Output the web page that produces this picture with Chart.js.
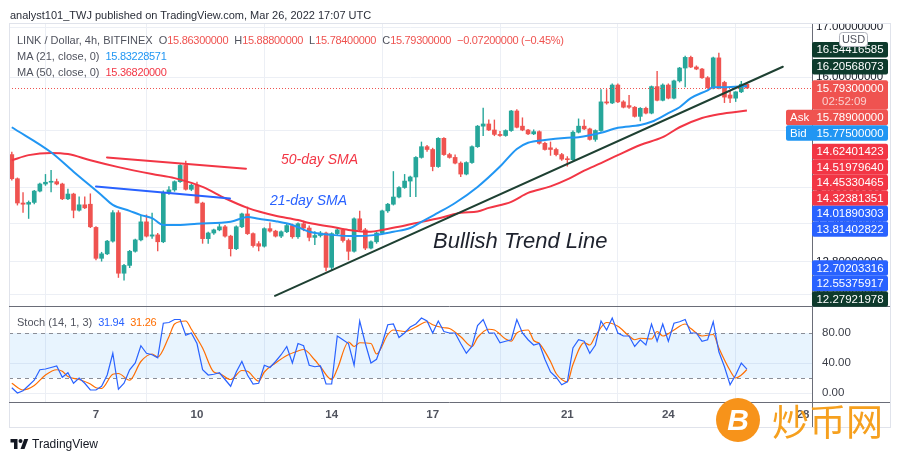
<!DOCTYPE html>
<html>
<head>
<meta charset="utf-8">
<title>LINK / Dollar, 4h, BITFINEX</title>
<script src="https://cdn.jsdelivr.net/npm/chart.js@4.4.1/dist/chart.umd.min.js"></script>
<style>
  html, body { margin:0; padding:0; background:#fff; }
  #wrap { position:relative; width:900px; height:460px; overflow:hidden; font-family:"Liberation Sans", Arial, sans-serif; }
  #c { position:absolute; left:0; top:0; }
  .t { position:absolute; white-space:nowrap; line-height:14px; font-size:11px; color:#50535E; }
  .n { letter-spacing:-0.3px; }
  .gap { margin-left:6px; }
  #tv { position:absolute; left:10px; top:437px; height:14px; }
  #tvtxt { position:absolute; left:32px; top:437px; font-size:12px; line-height:14px; color:#131722; white-space:nowrap; }
  #wmc { position:absolute; left:716px; top:398px; width:44px; height:44px; border-radius:50%; background:#F7931A; color:#fff; font:italic bold 30px "Liberation Sans", Arial, sans-serif; line-height:44px; text-align:center; }
  #wmt { position:absolute; left:772px; top:400px; font-size:37px; line-height:40px; color:#F6A01E; font-family:"Noto Sans CJK SC", sans-serif; white-space:nowrap; }
</style>
</head>
<body>
<div id="wrap">
  <canvas id="c" width="900" height="460"></canvas>
  <div class="t" id="hdr" style="left:10px;top:8px;color:#2A2E39;"></div>
  <div class="t" id="lg1" style="left:17px;top:33px;"></div>
  <div class="t" id="lg2" style="left:17px;top:49px;"></div>
  <div class="t" id="lg3" style="left:17px;top:65px;"></div>
  <div class="t" id="lgS" style="left:17px;top:315px;"></div>
  <svg id="tv" width="19" height="14" viewBox="0 0 36 28"><path d="M14 24H7V11H0V4h14v20z" fill="#131722"/><circle cx="20" cy="8" r="4" fill="#131722"/><path d="M28 24h-8l7.5-20h8L28 24z" fill="#131722"/></svg>
  <div id="tvtxt">TradingView</div>
  <div id="wmc">B</div>
  <div id="wmt">炒币网</div>
</div>
<script>
// ---------------- data ----------------
const headerText = 'analyst101_TWJ published on TradingView.com, Mar 26, 2022 17:07 UTC';
const symbolText = 'LINK / Dollar, 4h, BITFINEX';
const changeText = '\u22120.07200000 (\u22120.45%)';
const ma21Legend = 'MA (21, close, 0)';
const ma50Legend = 'MA (50, close, 0)';
const stochLegend = 'Stoch (14, 1, 3)';
const ma21Last = 15.83228571;
const ma50Last = 15.3682;
const stochKLast = 31.94;
const stochDLast = 31.26;
const askPrice = 15.789;
const bidPrice = 15.775;
const countdownText = '02:52:09';

const dayLabels = ['7', '10', '14', '17', '21', '24', '28'];
const dayTickIdx = [15, 33, 57, 75, 99, 117, 141];
const priceTicks = [12.3, 12.8, 13.4, 14, 15, 16, 17];
const stochTicks = [0, 40, 80];

const open = [
  14.57,14.15,13.74,13.72,13.75,13.94,14.06,14.09,14.10,14.06,
  13.81,13.89,13.62,13.71,13.72,13.34,12.85,12.92,13.12,13.58,
  12.62,12.74,12.96,13.14,13.43,13.20,13.22,13.11,13.92,13.96,
  14.10,14.38,13.97,14.04,13.74,13.16,13.25,13.30,13.35,13.20,
  13.00,13.35,13.56,13.24,13.08,13.04,13.32,13.28,13.20,13.27,
  13.37,13.19,13.40,13.33,13.18,13.21,13.25,12.71,13.24,13.30,
  13.13,12.96,13.48,13.30,13.01,13.11,13.25,13.61,13.72,13.84,
  14.00,14.11,14.18,14.52,14.71,14.66,14.36,14.86,14.57,14.52,
  14.42,14.23,14.43,14.71,15.08,15.12,15.01,14.93,14.91,15.00,
  15.36,15.08,15.01,14.94,14.98,14.77,14.69,14.66,14.57,14.49,
  14.48,14.97,15.08,15.03,14.84,15.00,15.53,15.51,15.85,15.53,
  15.46,15.43,15.26,15.41,15.32,15.82,15.56,15.85,15.60,15.93,
  16.18,16.39,16.20,16.16,15.99,15.80,16.38,15.90,15.66,15.60,
  15.72,15.863
];
const high = [
  14.62,14.17,13.92,13.78,13.96,14.08,14.23,14.30,14.15,14.08,
  13.98,13.91,13.85,13.85,13.90,13.36,12.95,13.14,13.62,13.62,
  12.76,12.98,13.16,13.53,13.55,13.58,13.25,13.95,14.02,14.12,
  14.40,14.46,14.06,14.10,13.76,13.27,13.32,13.40,13.38,13.22,
  13.37,13.58,13.68,13.26,13.12,13.34,13.42,13.30,13.29,13.40,
  13.40,13.42,13.45,13.37,13.28,13.28,13.27,13.26,13.33,13.32,
  13.16,13.50,13.61,13.33,13.13,13.27,13.63,13.74,14.28,14.02,
  14.23,14.20,14.54,14.80,14.74,14.69,14.88,14.88,14.60,14.57,
  14.45,14.45,14.73,15.10,15.42,15.20,15.20,14.99,15.02,15.38,
  15.39,15.24,15.03,15.02,15.00,14.80,14.80,14.69,14.60,14.54,
  15.00,15.22,15.20,15.05,15.02,15.77,15.77,15.88,15.88,15.56,
  15.66,15.45,15.43,15.44,15.84,16.12,15.88,15.88,15.95,16.20,
  16.42,16.42,16.23,16.18,16.02,16.40,16.48,15.93,15.75,15.73,
  15.93,15.888
];
const low = [
  14.12,13.70,13.58,13.48,13.72,13.92,14.03,13.92,14.04,13.79,
  13.79,13.49,13.60,13.64,13.33,12.82,12.80,12.90,13.10,12.55,
  12.51,12.70,12.94,13.12,13.18,13.16,12.96,13.09,13.88,13.93,
  14.08,13.95,13.94,13.73,13.08,13.08,13.22,13.28,13.18,12.88,
  12.98,13.33,13.22,13.02,12.96,13.02,13.26,13.18,13.17,13.25,
  13.16,13.16,13.28,13.12,13.06,13.18,12.65,12.66,13.20,13.10,
  12.82,12.94,13.28,12.98,12.99,13.08,13.23,13.58,13.70,13.82,
  13.98,13.84,13.84,14.50,14.62,14.28,14.34,14.55,14.50,14.40,
  14.18,14.21,14.41,14.69,14.90,14.99,14.90,14.89,14.89,14.98,
  15.04,14.99,14.92,14.92,14.75,14.64,14.55,14.54,14.46,14.36,
  14.46,14.95,15.01,14.82,14.80,14.98,15.48,15.49,15.51,15.41,
  15.40,15.24,15.17,15.30,15.30,15.54,15.54,15.58,15.58,15.90,
  15.81,16.18,16.14,15.97,15.78,15.77,15.77,15.51,15.51,15.53,
  15.70,15.784
];
const close = [
  14.15,13.74,13.72,13.75,13.94,14.06,14.09,14.10,14.06,13.81,
  13.89,13.62,13.71,13.66,13.35,12.85,12.92,13.12,13.58,12.62,
  12.74,12.96,13.14,13.43,13.20,13.22,13.11,13.92,13.96,14.10,
  14.38,13.97,14.04,13.74,13.16,13.25,13.30,13.35,13.20,13.00,
  13.35,13.56,13.24,13.05,13.04,13.32,13.28,13.20,13.27,13.37,
  13.19,13.40,13.33,13.18,13.21,13.25,12.71,13.24,13.30,13.13,
  12.96,13.48,13.30,13.01,13.11,13.25,13.61,13.72,13.84,14.00,
  14.11,14.18,14.52,14.71,14.66,14.36,14.86,14.57,14.52,14.42,
  14.23,14.43,14.71,15.08,15.12,15.01,14.93,14.91,15.00,15.36,
  15.06,15.01,14.94,14.98,14.77,14.66,14.66,14.57,14.49,14.48,
  14.97,15.08,15.03,14.84,15.00,15.53,15.51,15.85,15.53,15.43,
  15.43,15.26,15.41,15.32,15.82,15.56,15.85,15.60,15.93,16.18,
  16.39,16.20,16.16,15.99,15.80,16.38,15.79,15.62,15.60,15.72,
  15.865,15.793
];

// moving averages: [candle index, value]
const ma21Pts = [
  [0,15.06],[7,14.61],[11,14.27],[16,13.87],[18,13.71],[21,13.61],[23,13.54],[25,13.49],[27,13.38],
  [30,13.38],[33,13.40],[39,13.43],[42,13.51],[44,13.48],[47,13.44],[50,13.38],[53,13.27],[57,13.22],
  [61,13.20],[65,13.22],[68,13.27],[71,13.33],[73,13.43],[76,13.58],[79,13.74],[83,14.01],[87,14.36],
  [90,14.67],[92,14.78],[95,14.83],[99,14.87],[101,14.88],[105,14.96],[108,15.05],[112,15.10],[114,15.16],
  [117,15.32],[119,15.43],[121,15.60],[124,15.75],[125,15.81],[127,15.81],[131,ma21Last]
];
const ma50Pts = [
  [0,14.47],[3,14.56],[7,14.60],[10,14.58],[14,14.47],[19,14.35],[25,14.23],[29,14.16],[34,14.01],
  [38,13.82],[42,13.66],[47,13.53],[51,13.46],[53,13.41],[57,13.35],[60,13.30],[64,13.27],[66,13.30],
  [69,13.35],[73,13.43],[77,13.51],[80,13.58],[83,13.60],[85,13.66],[89,13.76],[92,13.91],[96,14.02],
  [99,14.14],[102,14.29],[105,14.42],[108,14.56],[112,14.74],[116,14.88],[119,15.06],[123,15.23],
  [126,15.30],[131,ma50Last]
];

// stochastic %K per candle, %D read at points
const stochK = [
  7,0,3,10,17,31,32,34,36,21, 27,13,20,13,4,4,9,24,53,5,
  13,31,40,63,53,51,47,93,94,98, 98,77,80,66,31,24,25,27,18,9,
  28,42,24,12,13,37,34,42,51,62, 40,66,63,37,35,36,12,12,76,71,
  66,37,96,66,40,45,66,91,92,74, 80,88,92,100,96,80,96,82,80,80,
  66,53,62,90,98,80,80,67,69,71, 98,80,71,64,66,45,28,21,11,15,
  60,71,69,53,64,96,84,100,80,76, 76,62,71,64,92,69,92,69,93,95,
  98,80,80,69,71,95,55,35,11,24, 40,stochKLast
];
const stochDPts = [
  [0,13],[2,4],[4,10],[6,24],[8,31],[9,29],[10,22],[12,18],[14,12],[15,7],[16,6],[18,25],[19,26],[21,17],
  [23,42],[25,52],[26,48],[28,75],[29,92],[31,96],[32,85],[34,60],[36,28],[37,26],[39,18],[41,30],[42,29],
  [44,16],[45,28],[47,40],[49,50],[51,56],[52,58],[54,44],[55,35],[57,18],[58,32],[60,68],[61,62],[62,67],
  [64,66],[65,52],[67,78],[68,84],[70,82],[72,88],[74,95],[75,91],[77,87],[78,86],[80,75],[82,62],[83,74],
  [85,85],[86,84],[88,72],[89,69],[90,80],[92,84],[93,70],[94,66],[96,42],[97,26],[99,15],[100,38],[102,67],
  [103,64],[104,76],[106,94],[108,89],[110,76],[111,71],[112,73],[114,72],[115,82],[116,76],[118,84],[120,92],
  [121,86],[123,76],[125,78],[126,60],[128,30],[129,20],[130,24],[131,stochDLast]
];

// drawing tools (endpoints in candle index / price)
const trendLinePts = [[46.9, 12.27921978], [137.4, 16.20568073]];
const redLinePts = [[16.96, 14.5197964], [41.73, 14.32381351]];
const blueLinePts = [[15.0, 14.01890303], [38.88, 13.81402822]];
const noteTexts = ['50-day SMA', '21-day SMA', 'Bullish Trend Line'];
const noteAnchors = [[47.97, 14.40], [46.01, 13.71], [75.06, 13.01]];

// price-scale labels of the drawings
const markerValues = [16.54416585, 16.20568073, 14.62401423, 14.5197964, 14.45330465, 14.32381351,
                      14.01890303, 13.81402822, 12.70203316, 12.55375917, 12.27921978];
const markerKinds = ['trend','trend','red','red','red','red','blue','blue','blue','blue','trend'];

// ---------------- styles ----------------
const FONT = '"Liberation Sans", Arial, sans-serif';
const GREEN = '#26A69A', RED = '#EF5350';
const GRID = '#ECEFF5';
const SEP = '#6A6D78';
const labelBg = { trend:'#0E3A2C', red:'#F23645', blue:'#2962FF', last:'#EF5350', ask:'#EF5350', bid:'#2196F3' };
const noteStyle = [
  { color:'#F23645', font:'italic 14px ' + FONT },
  { color:'#2962FF', font:'italic 14px ' + FONT },
  { color:'#1E222D', font:'italic 22px ' + FONT }
];
const lastIdx = close.length - 1;

// ---------------- HTML texts ----------------
const f8 = v => v.toFixed(8);
document.getElementById('hdr').textContent = headerText;
const rc = 'style="color:#EF5350"';
document.getElementById('lg1').innerHTML =
  `<span>${symbolText}</span>` +
  `<span class="gap">O</span><span class="n" ${rc}>${f8(open[lastIdx])}</span>` +
  `<span class="gap">H</span><span class="n" ${rc}>${f8(high[lastIdx])}</span>` +
  `<span class="gap">L</span><span class="n" ${rc}>${f8(low[lastIdx])}</span>` +
  `<span class="gap">C</span><span class="n" ${rc}>${f8(close[lastIdx])}</span>` +
  `<span class="gap n" ${rc}>${changeText}</span>`;
document.getElementById('lg2').innerHTML =
  `<span>${ma21Legend}</span><span class="gap n" style="color:#2196F3">${f8(ma21Last)}</span>`;
document.getElementById('lg3').innerHTML =
  `<span>${ma50Legend}</span><span class="gap n" style="color:#F23645">${f8(ma50Last)}</span>`;
document.getElementById('lgS').innerHTML =
  `<span>${stochLegend}</span><span class="gap n" style="color:#2962FF">${stochKLast.toFixed(2)}</span>` +
  `<span class="gap n" style="color:#FF6D00">${stochDLast.toFixed(2)}</span>`;

// ---------------- plugin ----------------
function rrect(ctx, x, y, w, h, r) {
  ctx.beginPath();
  if (ctx.roundRect) ctx.roundRect(x, y, w, h, r); else ctx.rect(x, y, w, h);
}
const decor = {
  id: 'decor',
  beforeDraw(chart) {
    const ctx = chart.ctx;
    ctx.save(); ctx.fillStyle = '#fff'; ctx.fillRect(0, 0, chart.width, chart.height); ctx.restore();
  },
  beforeDatasetsDraw(chart) {
    const { ctx, chartArea: ca, scales: { y2 } } = chart;
    const a = y2.getPixelForValue(80), b = y2.getPixelForValue(20);
    ctx.save();
    ctx.fillStyle = 'rgba(33,150,243,0.10)';
    ctx.fillRect(ca.left, a, ca.right - ca.left, b - a);
    ctx.strokeStyle = '#8A8D96'; ctx.lineWidth = 1; ctx.setLineDash([4, 4]);
    for (const yy of [a, b]) {
      ctx.beginPath(); ctx.moveTo(ca.left, Math.round(yy) + 0.5); ctx.lineTo(ca.right, Math.round(yy) + 0.5); ctx.stroke();
    }
    ctx.restore();
  },
  afterDatasetsDraw(chart) {
    const { ctx, chartArea: ca, scales: { x, y } } = chart;
    ctx.save();
    ctx.beginPath(); ctx.rect(ca.left, ca.top, ca.right - ca.left, y.bottom - ca.top); ctx.clip();
    // last price dotted line
    const py = Math.round(y.getPixelForValue(close[lastIdx])) + 0.5;
    ctx.strokeStyle = RED; ctx.lineWidth = 1; ctx.setLineDash([1, 2]);
    ctx.beginPath(); ctx.moveTo(ca.left, py); ctx.lineTo(ca.right, py); ctx.stroke();
    ctx.setLineDash([]);
    // drawing lines
    const lines = [[trendLinePts, '#1E4032'], [redLinePts, '#F23645'], [blueLinePts, '#2962FF']];
    for (const [pts, col] of lines) {
      ctx.strokeStyle = col; ctx.lineWidth = 2; ctx.lineCap = 'round';
      ctx.beginPath();
      ctx.moveTo(x.getPixelForValue(pts[0][0]), y.getPixelForValue(pts[0][1]));
      ctx.lineTo(x.getPixelForValue(pts[1][0]), y.getPixelForValue(pts[1][1]));
      ctx.stroke();
    }
    // notes
    ctx.textAlign = 'left'; ctx.textBaseline = 'alphabetic';
    noteTexts.forEach((t, i) => {
      ctx.fillStyle = noteStyle[i].color; ctx.font = noteStyle[i].font;
      ctx.fillText(t, x.getPixelForValue(noteAnchors[i][0]), y.getPixelForValue(noteAnchors[i][1]));
    });
    ctx.restore();
  },
  afterDraw(chart) {
    const { ctx, chartArea: ca, scales: { x, y, y2 } } = chart;
    const L = ca.right, R = L + 76, FR = 890;
    ctx.save();
    // clip the top of the price column
    ctx.fillStyle = '#fff'; ctx.fillRect(L + 1, 0, chart.width - L, ca.top - 0.5);
    // outer frame
    ctx.strokeStyle = '#E0E3EB'; ctx.lineWidth = 1;
    ctx.strokeRect(ca.left + 0.5, ca.top - 0.5, FR - ca.left, x.bottom - ca.top + 1);
    // pane separators
    ctx.strokeStyle = SEP;
    ctx.beginPath();
    ctx.moveTo(ca.left, Math.round(y.bottom) + 0.5); ctx.lineTo(FR, Math.round(y.bottom) + 0.5);
    ctx.moveTo(ca.left, Math.round(y2.bottom) + 0.5); ctx.lineTo(FR, Math.round(y2.bottom) + 0.5);
    ctx.moveTo(Math.round(L) + 0.5, ca.top); ctx.lineTo(Math.round(L) + 0.5, x.bottom);
    ctx.stroke();
    // price-scale labels (stacked like the platform does)
    const items = markerValues.map((v, i) => ({ v, kind: markerKinds[i] }));
    items.push({ v: close[lastIdx], kind: 'last' }, { v: askPrice, kind: 'ask' }, { v: bidPrice, kind: 'bid' });
    items.forEach(it => { it.y = y.getPixelForValue(it.v); it.h = it.kind === 'last' ? 29.5 : 15.5; });
    items.sort((a, b) => a.y - b.y);
    let prev = -1e9;
    for (const it of items) { it.top = Math.max(it.y - 7.75, prev); prev = it.top + it.h; }
    ctx.font = '11.5px ' + FONT; ctx.textBaseline = 'middle';
    for (const it of items) {
      const side = it.kind === 'ask' || it.kind === 'bid';
      const x0 = side ? L - 26 : L;
      ctx.fillStyle = labelBg[it.kind];
      rrect(ctx, x0, it.top, R - x0, it.h, 2); ctx.fill();
      ctx.fillStyle = '#fff'; ctx.textAlign = 'center';
      ctx.fillText(f8(it.v), (L + R) / 2, it.top + 8.25);
      if (it.kind === 'last') {
        ctx.textAlign = 'left'; ctx.fillStyle = 'rgba(255,255,255,0.72)';
        ctx.fillText(countdownText, L + 10, it.top + 22);
      }
      if (side) {
        ctx.textAlign = 'left'; ctx.fillStyle = '#fff';
        ctx.fillText(it.kind === 'ask' ? 'Ask' : 'Bid', L - 22, it.top + 8.25);
      }
    }
    // currency box
    ctx.fillStyle = '#fff'; ctx.strokeStyle = '#B2B5BE';
    rrect(ctx, 839.5, 32.5, 28, 14, 3); ctx.fill(); ctx.stroke();
    ctx.fillStyle = '#50535E'; ctx.font = '11px ' + FONT; ctx.textAlign = 'center';
    ctx.fillText('USD', 853.5, 40);
    ctx.restore();
  }
};

// ---------------- chart ----------------
const idx = open.map((_, i) => i);
const candleColor = c => close[c.dataIndex] >= open[c.dataIndex] ? GREEN : RED;

new Chart(document.getElementById('c'), {
  type: 'bar',
  data: {
    datasets: [
      { type: 'line', label: 'MA (21)', data: ma21Pts.map(([a, b]) => ({ x: a, y: b })), yAxisID: 'y',
        borderColor: '#2196F3', borderWidth: 2, pointRadius: 0, cubicInterpolationMode: 'monotone', order: 1 },
      { type: 'line', label: 'MA (50)', data: ma50Pts.map(([a, b]) => ({ x: a, y: b })), yAxisID: 'y',
        borderColor: '#F23645', borderWidth: 2, pointRadius: 0, cubicInterpolationMode: 'monotone', order: 1 },
      { type: 'bar', label: 'wick', data: idx.map(i => ({ x: i, y: [low[i], high[i]] })), yAxisID: 'y',
        backgroundColor: candleColor, barThickness: 1.4, inflateAmount: 0, grouped: false, borderWidth: 0, order: 3 },
      { type: 'bar', label: 'body', data: idx.map(i => ({ x: i, y: [Math.min(open[i], close[i]), Math.max(open[i], close[i])] })), yAxisID: 'y',
        backgroundColor: candleColor, barThickness: 4, minBarLength: 1, grouped: false, borderWidth: 0, order: 2 },
      { type: 'line', label: '%K', data: stochK.map((v, i) => ({ x: i, y: v })), yAxisID: 'y2',
        borderColor: '#2962FF', borderWidth: 1.2, pointRadius: 0, tension: 0, order: 1 },
      { type: 'line', label: '%D', data: stochDPts.map(([a, b]) => ({ x: a, y: b })), yAxisID: 'y2',
        borderColor: '#FF6D00', borderWidth: 1.2, pointRadius: 0, cubicInterpolationMode: 'monotone', order: 1 }
    ]
  },
  options: {
    responsive: false, animation: false, devicePixelRatio: 1, events: [],
    layout: { padding: { left: 9, top: 24, right: 12, bottom: 33 } },
    plugins: { legend: { display: false }, tooltip: { enabled: false } },
    scales: {
      x: {
        type: 'linear', min: -0.5, max: 142.6, bounds: 'data', offset: false,
        afterBuildTicks: s => { s.ticks = dayTickIdx.map(v => ({ value: v })); },
        afterFit: s => { s.height = 25; },
        grid: { color: GRID, drawTicks: false }, border: { display: false },
        ticks: { autoSkip: false, maxRotation: 0, padding: 6, color: '#50535E',
          font: { family: FONT, size: 11.5, weight: 'bold' },
          callback: v => { const k = dayTickIdx.indexOf(v); return k >= 0 ? dayLabels[k] : ''; } }
      },
      y: {
        type: 'logarithmic', position: 'right', stack: 'panes', stackWeight: 282,
        min: 12.129, max: 17.066, bounds: 'data',
        afterBuildTicks: s => { s.ticks = priceTicks.map(v => ({ value: v })); },
        afterFit: s => { s.width = 76; },
        grid: { color: GRID, drawTicks: false }, border: { display: false },
        ticks: { autoSkip: false, padding: 4, color: '#131722', font: { family: FONT, size: 11.5 },
          callback: v => Number(v).toFixed(8) }
      },
      y2: {
        type: 'linear', position: 'right', stack: 'panes', stackWeight: 96,
        min: -12, max: 116, bounds: 'data',
        afterBuildTicks: s => { s.ticks = stochTicks.map(v => ({ value: v })); },
        afterFit: s => { s.width = 76; },
        grid: { color: c => (c.tick && c.tick.value === 80) ? 'rgba(0,0,0,0)' : GRID, drawTicks: false },
        border: { display: false },
        ticks: { autoSkip: false, padding: 10, color: '#3B3E48', font: { family: FONT, size: 11.5 },
          callback: v => Number(v).toFixed(2) }
      }
    }
  },
  plugins: [decor]
});
</script>
</body>
</html>
